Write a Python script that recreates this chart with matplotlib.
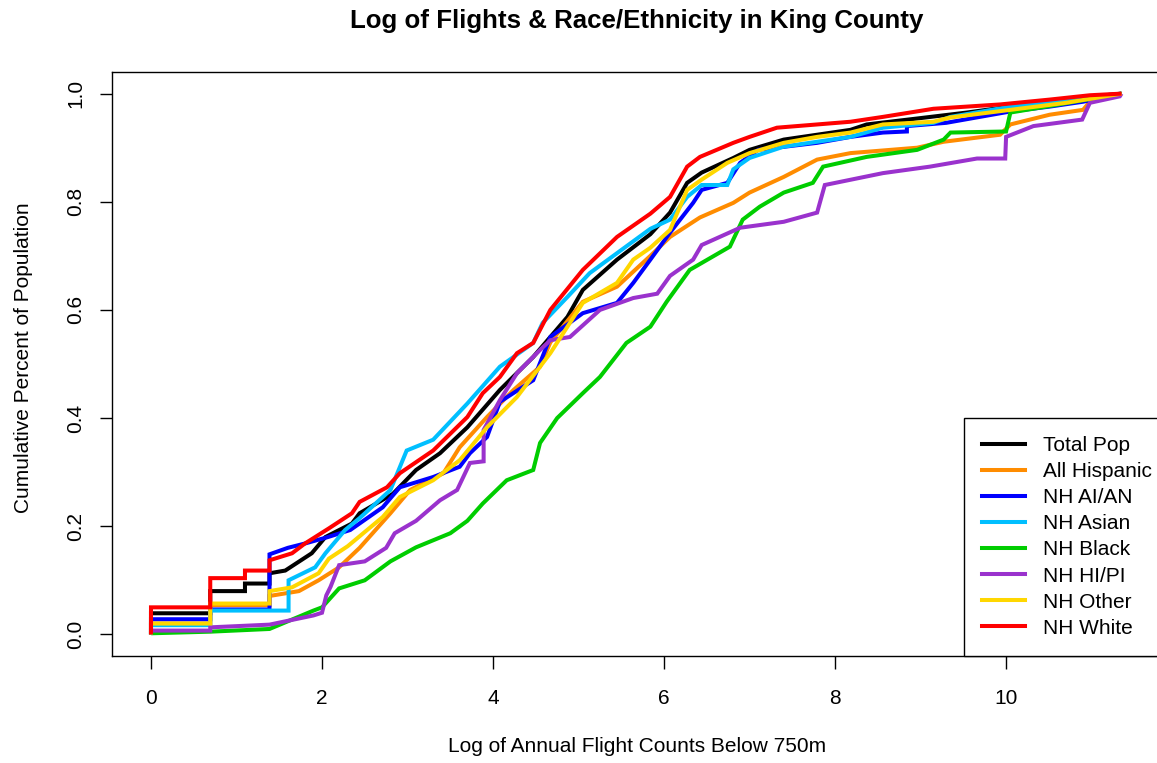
import matplotlib
matplotlib.use("Agg")
import matplotlib.pyplot as plt
from matplotlib.lines import Line2D

plt.rcParams['font.family'] = ['Liberation Sans', 'DejaVu Sans']

title = "Log of Flights & Race/Ethnicity in King County"
xlabel = "Log of Annual Flight Counts Below 750m"
ylabel = "Cumulative Percent of Population"

labels = ["Total Pop", "All Hispanic", "NH AI/AN", "NH Asian", "NH Black",
          "NH HI/PI", "NH Other", "NH White"]
colors = ["#000000", "#FF8C00", "#0000FF", "#00BFFF", "#00CD00",
          "#9A32CD", "#FFD700", "#FF0000"]

total_x = [0, 0, 0.693, 0.693, 1.099, 1.099, 1.386, 1.386, 1.57, 1.88, 2.04, 2.35, 2.44, 2.83, 3.1,
           3.38, 3.7, 4.08, 4.47, 4.87, 5.05, 5.45, 5.84, 6.07, 6.27, 6.44, 6.81, 7.0, 7.4, 7.79,
           8.18, 8.37, 8.96, 9.54, 10.05, 10.9, 11.35]
total_y = [0, 0.039, 0.039, 0.08, 0.08, 0.094, 0.094, 0.113, 0.118, 0.15, 0.18, 0.205, 0.224, 0.26,
           0.304, 0.335, 0.383, 0.452, 0.513, 0.587, 0.637, 0.693, 0.74, 0.78, 0.835, 0.854, 0.881,
           0.896, 0.915, 0.924, 0.933, 0.943, 0.954, 0.965, 0.976, 0.993, 1.0]

hisp_x = [0, 0, 0.693, 0.693, 1.386, 1.386, 1.73, 1.96, 2.2, 2.44, 2.8, 3.03, 3.42, 3.61, 3.93, 4.24,
          4.55, 4.67, 5.05, 5.45, 5.84, 6.07, 6.42, 6.81, 7.0, 7.4, 7.79, 8.18, 8.96, 9.27, 9.93,
          10.05, 10.51, 10.9, 10.98, 11.35]
hisp_y = [0, 0.02, 0.02, 0.054, 0.054, 0.071, 0.08, 0.1, 0.124, 0.16, 0.224, 0.267, 0.298, 0.346,
          0.402, 0.452, 0.495, 0.54, 0.615, 0.643, 0.7, 0.735, 0.771, 0.798, 0.817, 0.846, 0.878,
          0.89, 0.9, 0.911, 0.924, 0.943, 0.961, 0.97, 0.985, 1.0]

aian_x = [0, 0, 0.693, 0.693, 1.386, 1.386, 1.6, 1.8, 2.07, 2.33, 2.71, 2.91, 3.3, 3.61, 3.73, 3.93,
          4.08, 4.47, 4.67, 5.05, 5.45, 5.64, 5.84, 6.07, 6.34, 6.44, 6.74, 6.89, 7.1, 7.79, 8.18,
          8.56, 8.84, 8.84, 9.3, 10.05, 10.51, 10.9, 11.35]
aian_y = [0, 0.028, 0.028, 0.046, 0.046, 0.148, 0.16, 0.168, 0.18, 0.193, 0.235, 0.272, 0.291, 0.31,
          0.335, 0.365, 0.43, 0.47, 0.55, 0.594, 0.613, 0.65, 0.693, 0.743, 0.798, 0.822, 0.835,
          0.872, 0.896, 0.909, 0.92, 0.928, 0.93, 0.94, 0.946, 0.967, 0.976, 0.985, 1.0]

asian_x = [0, 0, 0.693, 0.693, 1.609, 1.609, 1.92, 2.04, 2.27, 2.44, 2.8, 2.99, 3.3, 3.7, 4.08, 4.47,
           4.58, 4.87, 5.13, 5.45, 5.84, 6.07, 6.27, 6.44, 6.74, 6.81, 7.0, 7.4, 7.79, 8.18, 8.56,
           9.15, 9.35, 10.05, 10.7, 11.35]
asian_y = [0, 0.017, 0.017, 0.044, 0.044, 0.1, 0.124, 0.15, 0.193, 0.215, 0.267, 0.34, 0.36, 0.427,
           0.495, 0.539, 0.576, 0.624, 0.668, 0.705, 0.75, 0.767, 0.809, 0.831, 0.831, 0.86, 0.881,
           0.902, 0.911, 0.92, 0.937, 0.946, 0.957, 0.976, 0.989, 1.0]

black_x = [0, 0, 0.693, 1.386, 1.9, 2.0, 2.2, 2.5, 2.8, 3.1, 3.5, 3.7, 3.88, 4.16, 4.47, 4.55, 4.75,
           5.05, 5.25, 5.56, 5.84, 6.03, 6.3, 6.77, 6.92, 7.12, 7.4, 7.74, 7.86, 8.37, 8.96, 9.27,
           9.35, 10.0, 10.05, 10.43, 11.35]
black_y = [0, 0.002, 0.005, 0.01, 0.044, 0.05, 0.085, 0.1, 0.135, 0.161, 0.187, 0.21, 0.242, 0.285,
           0.304, 0.354, 0.4, 0.446, 0.476, 0.539, 0.569, 0.615, 0.674, 0.717, 0.767, 0.791, 0.817,
           0.835, 0.865, 0.883, 0.896, 0.915, 0.928, 0.93, 0.965, 0.975, 1.0]

hipi_x = [0, 0, 0.693, 0.693, 1.386, 1.9, 2.0, 2.05, 2.1, 2.2, 2.5, 2.75, 2.85, 3.1, 3.38, 3.58, 3.73,
          3.89, 3.89, 4.08, 4.28, 4.55, 4.67, 4.9, 5.25, 5.64, 5.92, 6.07, 6.34, 6.44, 6.89, 7.4,
          7.79, 7.88, 8.56, 9.11, 9.66, 9.99, 10.0, 10.32, 10.89, 10.98, 11.33, 11.35]
hipi_y = [0, 0.007, 0.007, 0.013, 0.018, 0.035, 0.04, 0.072, 0.088, 0.128, 0.135, 0.16, 0.187, 0.21,
          0.248, 0.267, 0.317, 0.32, 0.378, 0.433, 0.483, 0.526, 0.544, 0.55, 0.6, 0.622, 0.63,
          0.663, 0.693, 0.72, 0.752, 0.763, 0.78, 0.831, 0.853, 0.865, 0.88, 0.88, 0.92, 0.94,
          0.952, 0.983, 0.995, 1.0]

other_x = [0, 0, 0.693, 0.693, 1.386, 1.386, 1.65, 1.96, 2.08, 2.3, 2.71, 2.91, 3.3, 3.61, 3.93,
           4.28, 4.67, 5.05, 5.45, 5.64, 5.84, 6.07, 6.27, 6.44, 6.74, 7.0, 7.4, 7.79, 8.18, 8.56,
           9.15, 9.35, 10.05, 10.7, 11.35]
other_y = [0, 0.02, 0.02, 0.057, 0.057, 0.08, 0.087, 0.113, 0.14, 0.163, 0.217, 0.254, 0.285, 0.322,
           0.383, 0.439, 0.52, 0.613, 0.65, 0.693, 0.715, 0.748, 0.822, 0.841, 0.872, 0.89, 0.909,
           0.92, 0.928, 0.943, 0.948, 0.956, 0.97, 0.983, 1.0]

white_x = [0, 0, 0.693, 0.693, 1.099, 1.099, 1.386, 1.386, 1.65, 1.8, 2.08, 2.35, 2.44, 2.76, 2.91,
           3.3, 3.7, 3.88, 4.08, 4.28, 4.47, 4.67, 5.05, 5.45, 5.84, 6.07, 6.27, 6.42, 6.81, 7.0,
           7.32, 7.79, 8.18, 8.56, 9.15, 9.93, 10.51, 10.98, 11.35]
white_y = [0, 0.05, 0.05, 0.104, 0.104, 0.118, 0.118, 0.137, 0.15, 0.168, 0.196, 0.224, 0.245,
           0.272, 0.298, 0.34, 0.402, 0.446, 0.476, 0.52, 0.539, 0.6, 0.674, 0.735, 0.778, 0.809,
           0.865, 0.883, 0.909, 0.92, 0.937, 0.943, 0.948, 0.957, 0.972, 0.98, 0.989, 0.997, 1.0]

series_x = [total_x, hisp_x, aian_x, asian_x, black_x, hipi_x, other_x, white_x]
series_y = [total_y, hisp_y, aian_y, asian_y, black_y, hipi_y, other_y, white_y]

xticks = [0, 2, 4, 6, 8, 10]
yticks = [0.0, 0.2, 0.4, 0.6, 0.8, 1.0]
ytick_labels = ["0.0", "0.2", "0.4", "0.6", "0.8", "1.0"]

W, H = 1157, 763
fig = plt.figure(figsize=(W / 100, H / 100), dpi=100)
ax_left, ax_right = 112, 1160
ax = fig.add_axes([ax_left / W, 1 - 656 / H, (ax_right - ax_left) / W, (656 - 72) / H])

for xs, ys, c in zip(series_x, series_y, colors):
    ax.plot(xs, ys, color=c, lw=2.9, solid_joinstyle='miter', solid_capstyle='butt')

ax.set_xlim(-0.456, 11.80)
ax.set_ylim(-0.04, 1.04)
ax.set_xticks(xticks)
ax.set_xticklabels([str(t) for t in xticks])
ax.set_yticks(yticks)
ax.set_yticklabels(ytick_labels, rotation=90, va='center')
ax.tick_params(axis='both', direction='out', length=9, width=1, labelsize=15, colors='black')
ax.tick_params(axis='x', pad=15)
ax.tick_params(axis='y', pad=10)
for s in ax.spines.values():
    s.set_linewidth(1.0)
    s.set_color('black')

fig.text(637 / W, 1 - 21 / H, title, ha='center', va='center', fontsize=18.6, fontweight='bold')
fig.text(637 / W, 1 - 747 / H, xlabel, ha='center', va='center', fontsize=15)
fig.text(24 / W, 1 - 358 / H, ylabel, ha='center', va='center', fontsize=15, rotation=90)

handles = [Line2D([0], [0], color=c, lw=2.9) for c in colors]
leg_x = (964 - ax_left) / (ax_right - ax_left)
leg = ax.legend(handles, labels, loc='lower left', bbox_to_anchor=(leg_x, 0.0),
                bbox_transform=ax.transAxes, borderaxespad=0, fontsize=15,
                handlelength=2.05, handletextpad=0.85, labelspacing=0.34, borderpad=0.88,
                fancybox=False, framealpha=1, edgecolor='black')
leg.get_frame().set_linewidth(1.0)

fig.savefig("out.png", dpi=100)
